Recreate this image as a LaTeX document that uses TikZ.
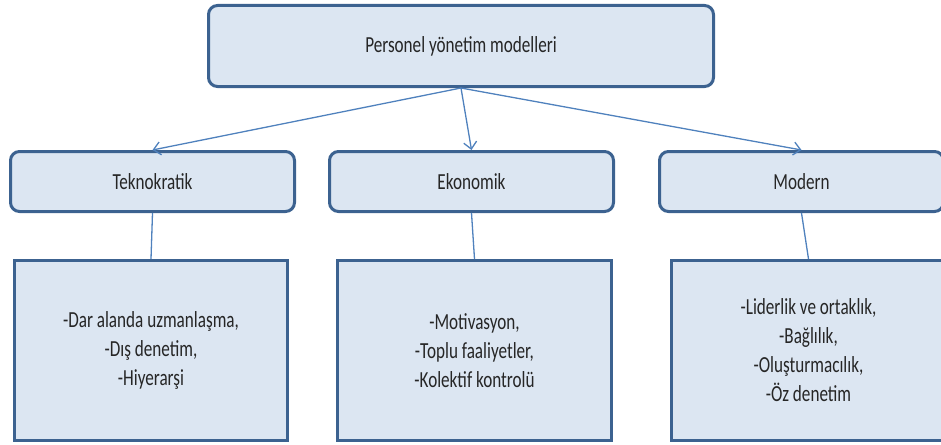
\documentclass[tikz,border=0pt]{standalone}
\usepackage{fontspec}
\setmainfont[FakeStretch=0.745]{Carlito}
\usetikzlibrary{arrows.meta}
\definecolor{boxfill}{HTML}{DCE6F2}
\definecolor{boxline}{HTML}{3C6290}
\definecolor{conn}{HTML}{4F81BD}
\begin{document}
\begin{tikzpicture}[x=1pt,y=-1pt,
  every node/.style={font=\fontsize{23}{29}\selectfont, align=center, text=black!85},
  rbox/.style={draw=boxline, fill=boxfill, line width=3pt, rounded corners=9pt, inner sep=0pt},
  sbox/.style={draw=boxline, fill=boxfill, line width=3pt, inner sep=0pt},
  conline/.style={draw=conn, line width=1.3pt},
  arr/.style={conline, -{Straight Barb[length=7pt,width=13pt,line width=1.3pt]}}]
\useasboundingbox (0,0) rectangle (941,444);
\clip (0,0) rectangle (941,444);
\node[rbox, minimum width=505pt, minimum height=81pt] (top) at (461,46) {Personel yönetim modelleri};
\node[rbox, minimum width=284pt, minimum height=60pt] (tek) at (152.5,181.5) {Teknokratik};
\node[rbox, minimum width=284pt, minimum height=60pt] (eko) at (471.5,181.5) {Ekonomik};
\node[rbox, minimum width=284pt, minimum height=60pt] (mod) at (801.5,181.5) {Modern};
\node[sbox, minimum width=273pt, minimum height=180pt] (tekb) at (151,350.5) {-Dar alanda uzmanlaşma,\\-Dış denetim,\\-Hiyerarşi};
\node[sbox, minimum width=274pt, minimum height=180pt] (ekob) at (474.5,350.5) {-Motivasyon,\\-Toplu faaliyetler,\\-Kolektif kontrolü};
\node[sbox, minimum width=274pt, minimum height=180pt] (modb) at (808.5,350.5) {-Liderlik ve ortaklık,\\-Bağlılık,\\-Oluşturmacılık,\\-Öz denetim};
\draw[arr] (top.south) -- (tek.north);
\draw[arr] (top.south) -- (eko.north);
\draw[arr] (top.south) -- (mod.north);
\draw[conline] (tek.south) -- (tekb.north);
\draw[conline] (eko.south) -- (ekob.north);
\draw[conline] (mod.south) -- (modb.north);
\end{tikzpicture}
\end{document}
